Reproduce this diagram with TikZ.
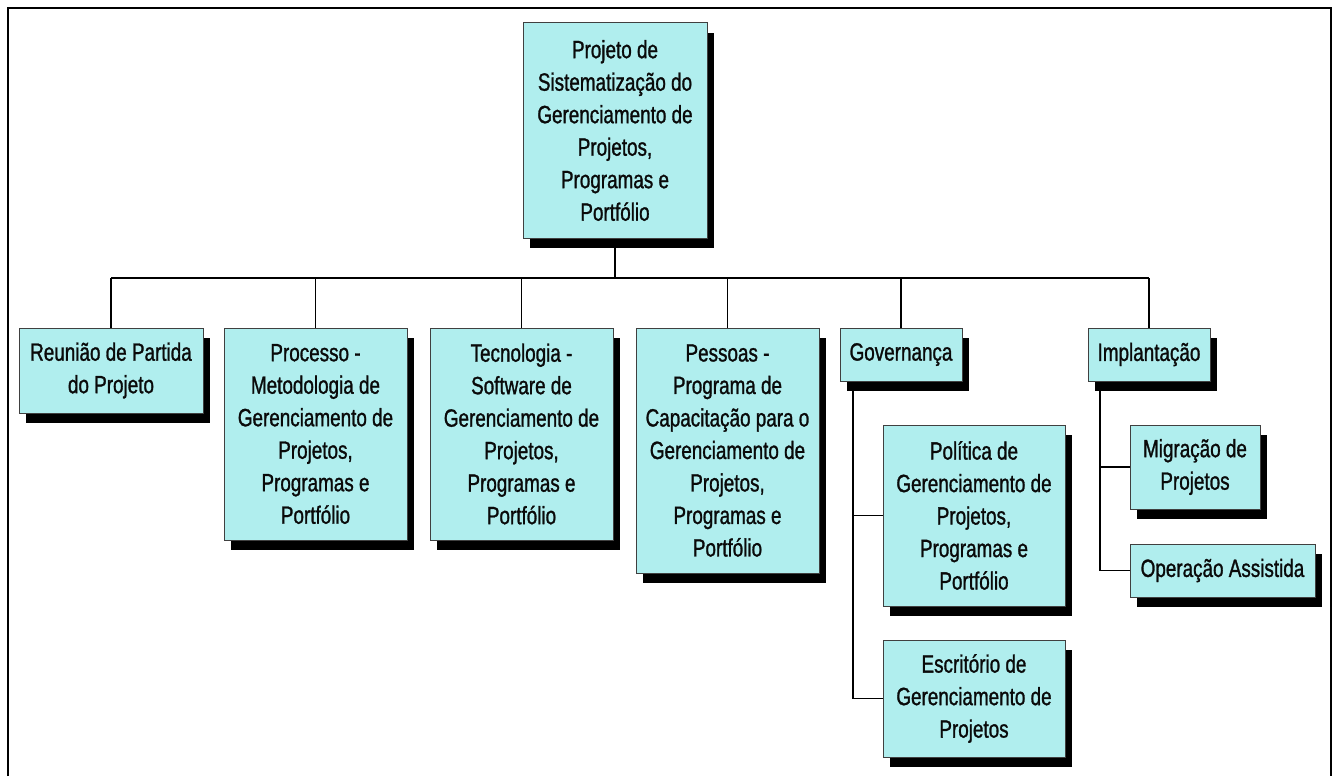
\documentclass[tikz,border=0pt]{standalone}
\usepackage{fontspec}
\setmainfont{Liberation Sans}[FakeStretch=0.755,FakeBold=1.1]
\usetikzlibrary{shadows}
\pgfdeclarelayer{background}
\pgfsetlayers{background,main}
\definecolor{boxfill}{RGB}{176,238,238}
\definecolor{txt}{RGB}{10,10,10}
\tikzset{
  wbs/.style={draw=black!75, line width=1pt, fill=boxfill, inner sep=0pt,
    align=center, text=txt, font=\fontsize{25}{32.5}\selectfont,
    drop shadow={shadow xshift=7pt, shadow yshift=-10pt, fill=black, opacity=1}},
  conn/.style={draw=black, line width=1.2pt},
  frame/.style={draw=black, line width=2.2pt}
}
\begin{document}
\begin{tikzpicture}[x=1pt,y=-1pt]
\useasboundingbox (0,0) rectangle (1332,776);
\coordinate (f1) at (8,776);
\coordinate (f2) at (8,8);
\coordinate (f3) at (1331,8);
\coordinate (f4) at (1331,776);
\draw[frame] (f1) -- (f2) -- (f3) -- (f4);

\node[wbs, minimum width=184pt, minimum height=215pt] (root) at (615,130.5)
  {Projeto de\\Sistematização do\\Gerenciamento de\\Projetos,\\Programas e\\Portfólio};
\node[wbs, minimum width=184pt, minimum height=85pt] (reuniao) at (111,370.5)
  {Reunião de Partida\\do Projeto};
\node[wbs, minimum width=183pt, minimum height=212pt] (processo) at (315.5,434)
  {Processo -\\Metodologia de\\Gerenciamento de\\Projetos,\\Programas e\\Portfólio};
\node[wbs, minimum width=183pt, minimum height=212pt] (tecnologia) at (521.5,434)
  {Tecnologia -\\Software de\\Gerenciamento de\\Projetos,\\Programas e\\Portfólio};
\node[wbs, minimum width=183pt, minimum height=245pt] (pessoas) at (727.5,450.5)
  {Pessoas -\\Programa de\\Capacitação para o\\Gerenciamento de\\Projetos,\\Programas e\\Portfólio};
\node[wbs, minimum width=122pt, minimum height=53pt] (governanca) at (901,354.5)
  {Governança};
\node[wbs, minimum width=122pt, minimum height=53pt] (implantacao) at (1149,354.5)
  {Implantação};
\node[wbs, minimum width=182pt, minimum height=181pt] (politica) at (974,515.5)
  {Política de\\Gerenciamento de\\Projetos,\\Programas e\\Portfólio};
\node[wbs, minimum width=182pt, minimum height=117pt] (escritorio) at (974,698.5)
  {Escritório de\\Gerenciamento de\\Projetos};
\node[wbs, minimum width=130pt, minimum height=84pt] (migracao) at (1195,467)
  {Migração de\\Projetos};
\node[wbs, minimum width=185pt, minimum height=53pt] (operacao) at (1222.5,570.5)
  {Operação Assistida};

\coordinate (bus) at (0,278);
\coordinate (gx) at (853,0);
\coordinate (ix) at (1100,0);

\begin{pgfonlayer}{background}
\draw[conn] (root.south) -- (root.south |- bus);
\draw[conn] (reuniao.north |- bus) -- (implantacao.north |- bus);
\foreach \n in {reuniao,processo,tecnologia,pessoas,governanca,implantacao}
  \draw[conn] (\n.north) -- (\n.north |- bus);
\draw[conn] (gx |- governanca.south) -- (gx |- escritorio.west) -- (escritorio.west);
\draw[conn] (gx |- politica.west) -- (politica.west);
\draw[conn] (ix |- implantacao.south) -- (ix |- operacao.west) -- (operacao.west);
\draw[conn] (ix |- migracao.west) -- (migracao.west);
\end{pgfonlayer}
\end{tikzpicture}
\end{document}
